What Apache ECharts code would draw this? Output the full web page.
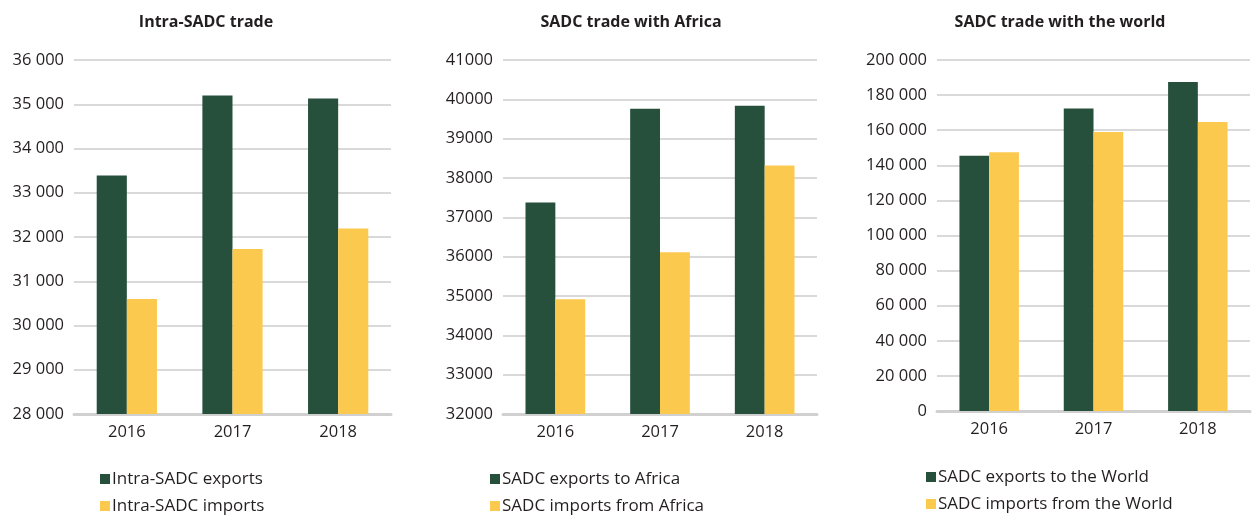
<!DOCTYPE html>
<html>
<head>
<meta charset="utf-8">
<script src="https://cdn.jsdelivr.net/npm/echarts@6/dist/echarts.min.js"></script>
<style>
html,body{margin:0;padding:0;background:#fff;}
#c{width:1258px;height:515px;}
</style>
</head>
<body>
<div id="c"></div>
<script>
const years = ['2016', '2017', '2018'];

const titles = ['Intra-SADC trade', 'SADC trade with Africa', 'SADC trade with the world'];

const intraExports = [33390, 35200, 35130];
const intraImports = [30600, 31730, 32190];

const africaExports = [37380, 39760, 39840];
const africaImports = [34920, 36110, 38320];

const worldExports = [145500, 172300, 187500];
const worldImports = [147400, 159000, 164700];

const seriesNames = [
  ['Intra-SADC exports', 'Intra-SADC imports'],
  ['SADC exports to Africa', 'SADC imports from Africa'],
  ['SADC exports to the World', 'SADC imports from the World']
];

const yMin = [28000, 32000, 0];
const yMax = [36000, 41000, 200000];
const yInterval = [1000, 1000, 20000];

const GREEN = '#264f3c';
const YELLOW = '#fcc94f';
const FONT = 'Open Sans';
const TEXT = '#231f20';

const grids = [
  {left: 74, width: 317, top: 60, height: 354},
  {left: 503, width: 314, top: 60, height: 354},
  {left: 937, width: 313, top: 60, height: 351}
];

const spaceSep = v => String(v).replace(/\B(?=(\d{3})+(?!\d))/g, ' ');
const formatters = [spaceSep, v => String(v), spaceSep];

const titleCenters = [206, 631, 1060];
const legendLeft = [100, 490, 926];
const legendRowCenters = [[479, 506], [479, 506], [477, 504]];

const data = [[intraExports, intraImports], [africaExports, africaImports], [worldExports, worldImports]];

const legends = [];
seriesNames.forEach((names, i) => {
  names.forEach((n, j) => {
    legends.push({
      data: [n],
      left: legendLeft[i],
      top: legendRowCenters[i][j] - 11,
      padding: 0,
      itemWidth: 10,
      itemHeight: 10,
      icon: 'rect',
      textStyle: {fontFamily: FONT, fontSize: 17, color: TEXT, lineHeight: 22, padding: [0, 0, 0, -3]}
    });
  });
});

const option = {
  backgroundColor: '#fff',
  animation: false,
  textStyle: {fontFamily: FONT},
  title: titles.map((t, i) => ({
    text: t,
    left: titleCenters[i],
    top: 14,
    textAlign: 'center',
    padding: 0,
    textStyle: {fontFamily: FONT, fontWeight: 'bold', fontSize: 16, color: TEXT}
  })),
  legend: legends,
  grid: grids,
  xAxis: grids.map((g, i) => ({
    type: 'category',
    gridIndex: i,
    data: years,
    axisTick: {show: false},
    axisLine: {show: true, lineStyle: {color: '#d0d0d0', width: 3}},
    axisLabel: {fontFamily: FONT, fontSize: 16.5, color: TEXT, margin: 10}
  })),
  yAxis: grids.map((g, i) => ({
    type: 'value',
    gridIndex: i,
    min: yMin[i],
    max: yMax[i],
    interval: yInterval[i],
    axisLine: {show: false},
    axisTick: {show: false},
    splitLine: {show: true, lineStyle: {color: '#d9d9d9', width: 2}},
    axisLabel: {fontFamily: FONT, fontSize: 16.5, color: TEXT, margin: 10, formatter: formatters[i]}
  })),
  series: []
};

data.forEach((pair, i) => {
  option.series.push({
    name: seriesNames[i][0], type: 'bar', xAxisIndex: i, yAxisIndex: i,
    data: pair[0], barGap: '0%', barCategoryGap: '43%',
    itemStyle: {color: GREEN}
  });
  option.series.push({
    name: seriesNames[i][1], type: 'bar', xAxisIndex: i, yAxisIndex: i,
    data: pair[1], barGap: '0%', barCategoryGap: '43%',
    itemStyle: {color: YELLOW}
  });
});

const chart = echarts.init(document.getElementById('c'), null, {renderer: 'canvas'});
chart.setOption(option);
</script>
</body>
</html>
